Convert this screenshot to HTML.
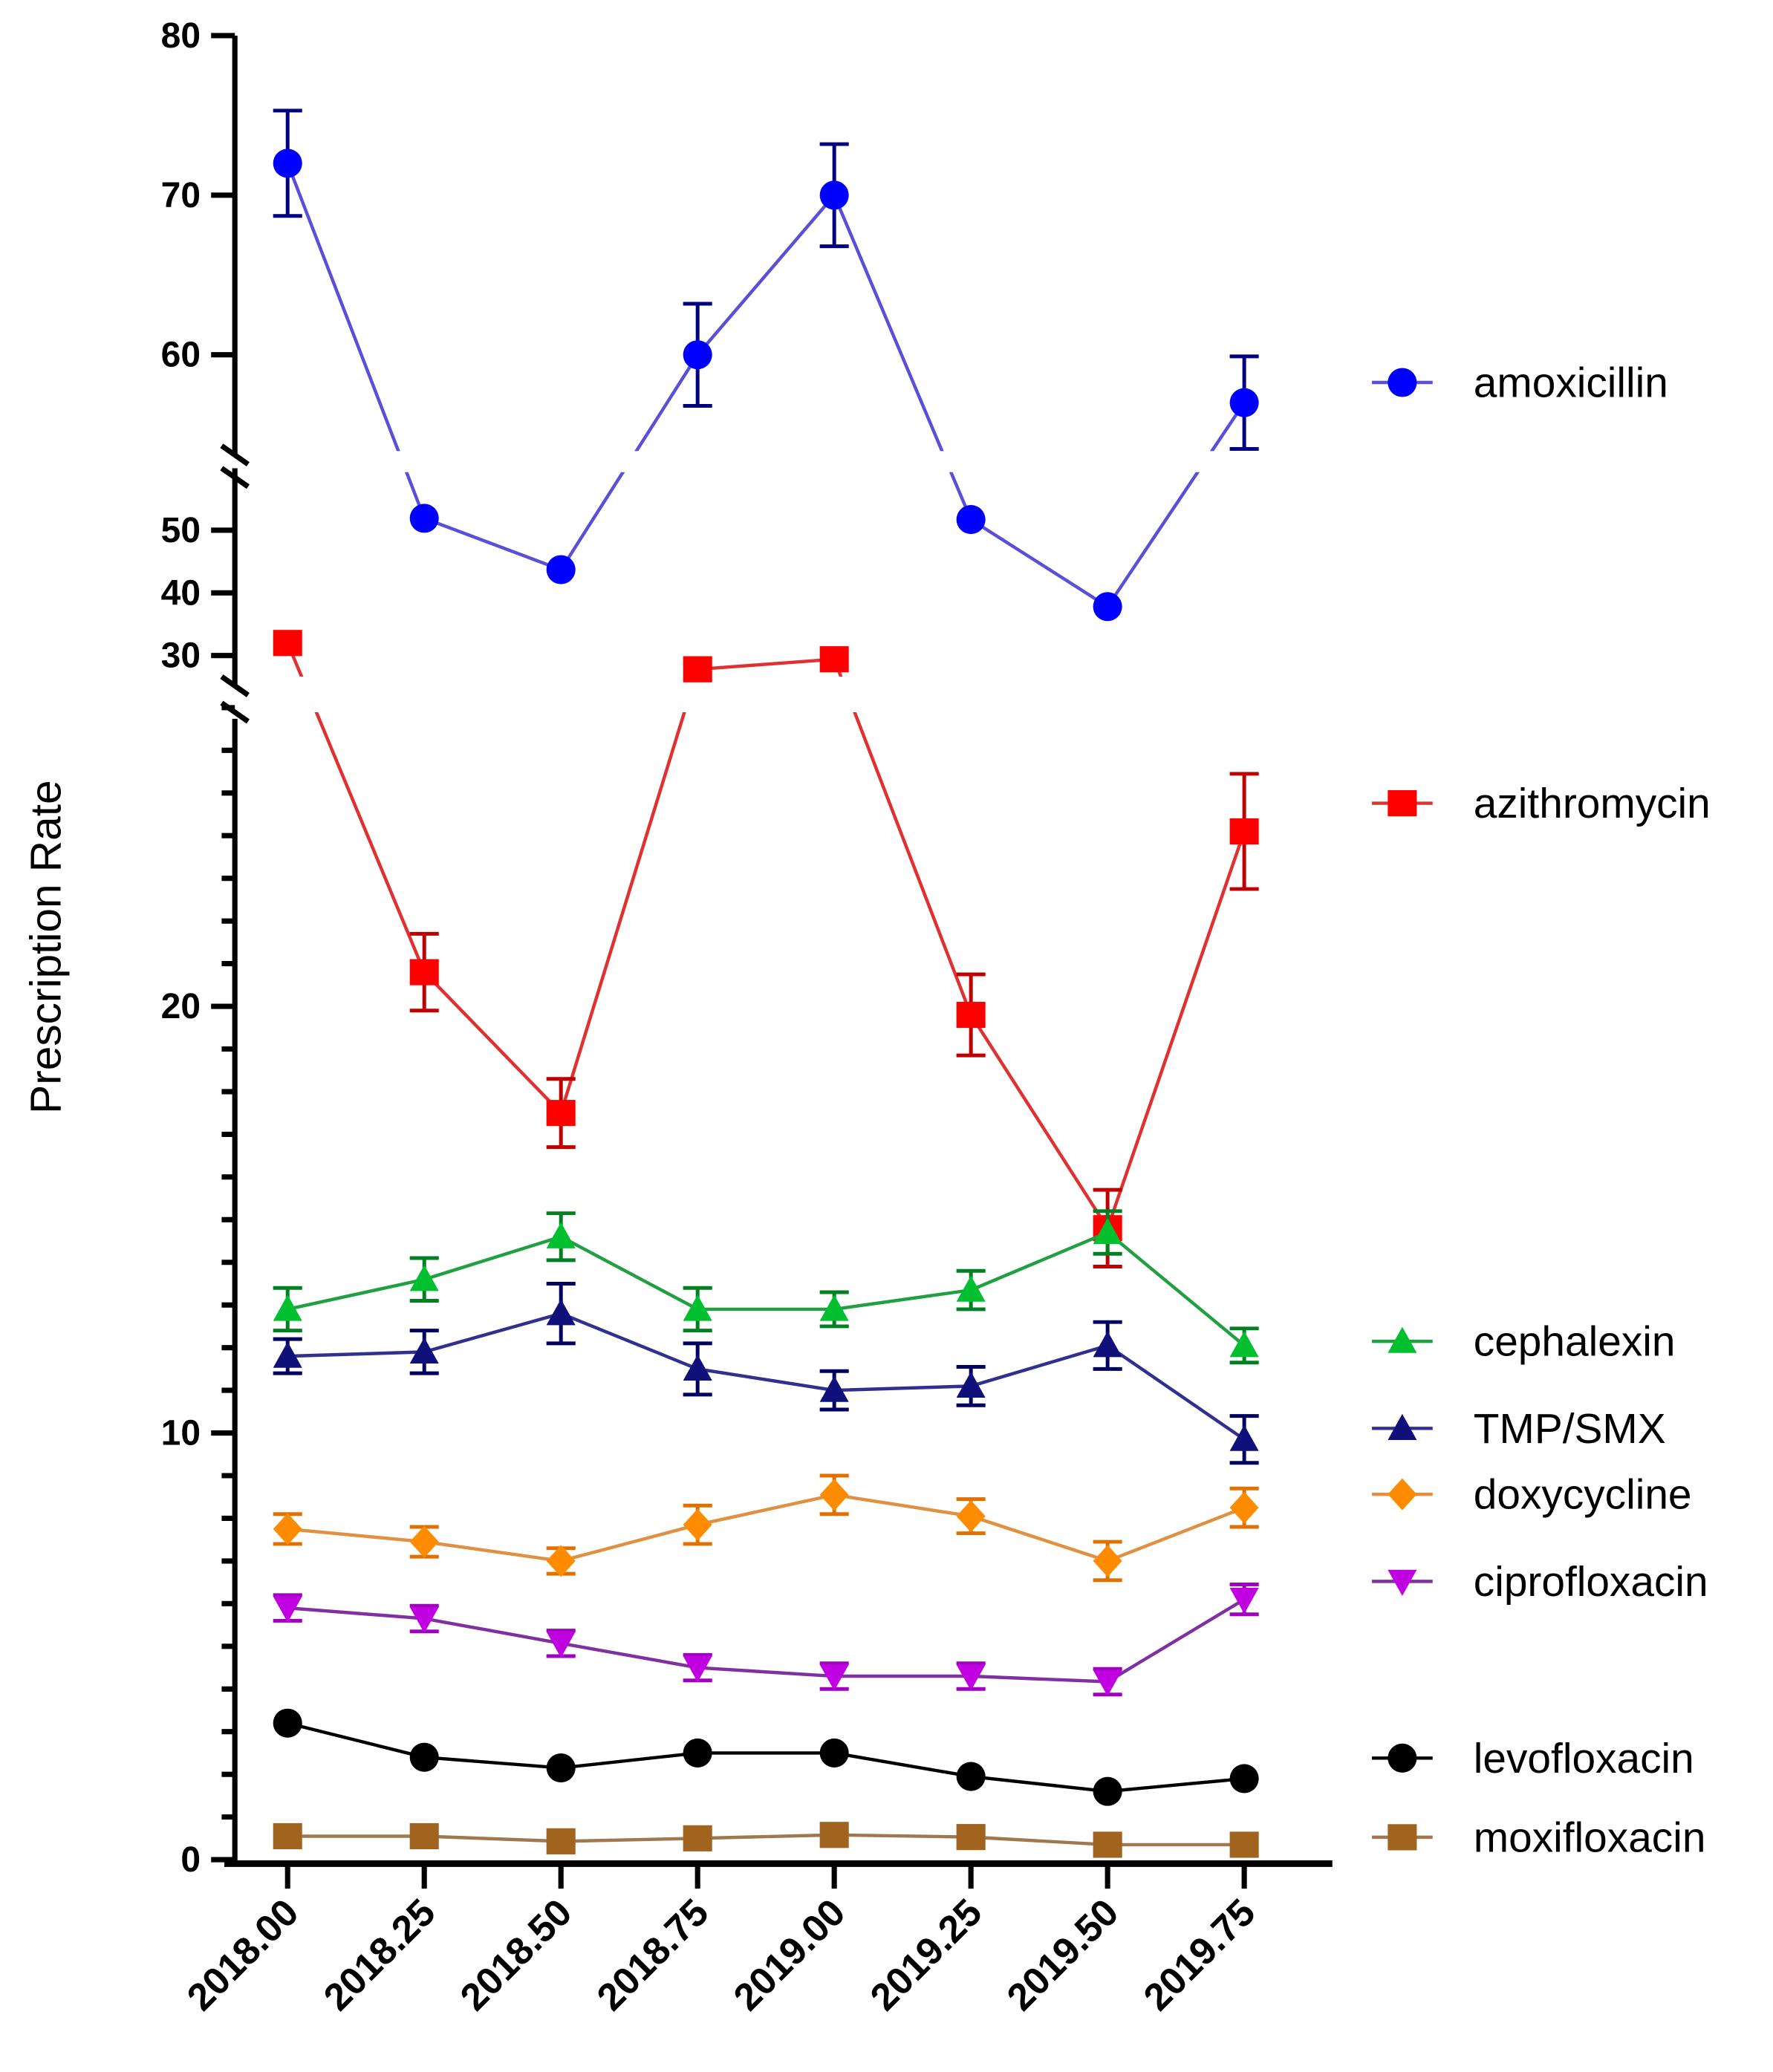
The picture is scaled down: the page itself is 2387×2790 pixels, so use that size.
<!DOCTYPE html>
<html><head><meta charset="utf-8"><style>
html,body{margin:0;padding:0;background:#fff;}
svg{display:block;font-family:"Liberation Sans",Arial,sans-serif;}
</style></head><body>
<svg id="chart" width="2387" height="2790" viewBox="0 0 1344 1571" xmlns="http://www.w3.org/2000/svg">
<defs>
<clipPath id="clipAll">
<rect x="180" y="0" width="1000" height="342"/>
<rect x="180" y="358" width="1000" height="155"/>
<rect x="180" y="540" width="1000" height="900"/>
</clipPath>
</defs>
<g id="axes"></g>
<g id="series"></g>
<g id="legend"></g>
</svg>
<script>
const categories = ["2018.00","2018.25","2018.50","2018.75","2019.00","2019.25","2019.50","2019.75"];
const amoxicillin = [72, 51.9, 43.7, 60, 70, 51.7, 37.8, 57];
const amoxicillinErr = [3.3, 0, 0, 3.2, 3.2, 0, 0, 2.9];
const azithromycin = [32, 20.8, 17.5, 27.9, 29.4, 19.8, 14.8, 24.1];
const azithromycinErr = [0, 0.9, 0.8, 0, 0, 0.95, 0.9, 1.35];
const cephalexin = [12.9, 13.6, 14.6, 12.9, 12.9, 13.35, 14.7, 12.05];
const cephalexinErr = [0.5, 0.5, 0.55, 0.5, 0.4, 0.45, 0.5, 0.4];
const tmpSmx = [11.8, 11.9, 12.8, 11.5, 11.0, 11.1, 12.05, 9.85];
const tmpSmxErr = [0.4, 0.5, 0.7, 0.6, 0.45, 0.45, 0.55, 0.55];
const doxycycline = [7.75, 7.45, 7.0, 7.85, 8.55, 8.05, 7.0, 8.25];
const doxycyclineErr = [0.35, 0.35, 0.3, 0.45, 0.45, 0.4, 0.45, 0.45];
const ciprofloxacin = [5.9, 5.65, 5.07, 4.5, 4.3, 4.3, 4.17, 6.1];
const ciprofloxacinErr = [0.3, 0.3, 0.3, 0.3, 0.3, 0.3, 0.3, 0.35];
const levofloxacin = [3.2, 2.4, 2.15, 2.5, 2.5, 1.95, 1.6, 1.9];
const moxifloxacin = [0.55, 0.55, 0.43, 0.5, 0.58, 0.53, 0.35, 0.35];
const yTicks = [0, 10, 20, 30, 40, 50, 60, 70, 80];

const NS = "http://www.w3.org/2000/svg";
function mk(tag, attrs, parent){const e=document.createElementNS(NS,tag);for(const k in attrs)e.setAttribute(k,attrs[k]);parent.appendChild(e);return e;}
function xScale(i){return 218 + i*103.6;}
function segOf(v){return v<=28?0:(v<=55?1:2);}
function ySeg(v,s){
  if(s===0) return 1410 - 32.35*v;
  if(s===1) return 497 - (v-30)*4.75;
  return 269 - (v-60)*12.1;
}
function yScale(v){return ySeg(v,segOf(v));}
const axes=document.getElementById('axes');
const series=document.getElementById('series');
const legend=document.getElementById('legend');

[[27,345],[355,520],[545,1414]].forEach(s=>{
  const l=mk('line',{x1:178,y1:s[0],x2:178,y2:s[1],stroke:'#000','stroke-width':4},axes);
  
  
});
[[338,352],[355,369],[513,527],[533,547]].forEach(b=>{
  const l=mk('line',{x1:168,y1:b[0],x2:188,y2:b[1],stroke:'#000','stroke-width':4},axes);
  
  
});
const xl=mk('line',{x1:170,y1:1413,x2:1010,y2:1413,stroke:'#000','stroke-width':5},axes);


yTicks.forEach(t=>{
  const y=yScale(t);
  const tk=mk('line',{x1:160,y1:y,x2:178,y2:y,stroke:'#000','stroke-width':4},axes);
  
  
  const tx=mk('text',{x:152,y:y+9,'text-anchor':'end','font-size':27,'font-weight':'bold'},axes);
  tx.textContent=t;
  
  
});
for(let m=1;m<=27;m++){
  if(m%10===0) continue;
  const y=yScale(m);
  const tk=mk('line',{x1:168,y1:y,x2:178,y2:y,stroke:'#000','stroke-width':4},axes);
  
  
}
categories.forEach((c,i)=>{
  const x=xScale(i);
  const tk=mk('line',{x1:x,y1:1413,x2:x,y2:1432,stroke:'#000','stroke-width':4},axes);
  
  
  const tx=mk('text',{x:x+10,y:1452,'text-anchor':'end','font-size':29,'font-weight':'bold',transform:`rotate(-45 ${x+10} 1452)`},axes);
  tx.textContent=c;
  
  
});
const yt=mk('text',{x:46,y:718,'text-anchor':'middle','font-size':33,transform:'rotate(-90 46 718)'},axes);
yt.textContent='Prescription Rate';



function marker(shape,x,y,color,g,s){
  s=s||10;
  if(shape==='circle') return mk('circle',{cx:x,cy:y,r:s,fill:color},g);
  if(shape==='square') return mk('rect',{x:x-s,y:y-s*0.9,width:2*s,height:1.8*s,fill:color},g);
  if(shape==='up') return mk('polygon',{points:`${x},${y-s} ${x-s},${y+s*0.8} ${x+s},${y+s*0.8}`,fill:color},g);
  if(shape==='down') return mk('polygon',{points:`${x},${y+s} ${x-s},${y-s*0.8} ${x+s},${y-s*0.8}`,fill:color},g);
  if(shape==='diamond') return mk('polygon',{points:`${x},${y-s*1.1} ${x+s},${y} ${x},${y+s*1.1} ${x-s},${y}`,fill:color},g);
}
const defs=[
 {name:'amoxicillin',vals:amoxicillin,err:amoxicillinErr,color:'#0000ff',line:'#5a4fd8',ecol:'#000080',shape:'circle',ly:290},
 {name:'azithromycin',vals:azithromycin,err:azithromycinErr,color:'#ff0000',line:'#e03030',ecol:'#c00000',shape:'square',ly:609},
 {name:'cephalexin',vals:cephalexin,err:cephalexinErr,color:'#00c030',line:'#20a040',ecol:'#008020',shape:'up',ly:1017},
 {name:'TMP/SMX',vals:tmpSmx,err:tmpSmxErr,color:'#10107a',line:'#303090',ecol:'#000060',shape:'up',ly:1083},
 {name:'doxycycline',vals:doxycycline,err:doxycyclineErr,color:'#ff8c00',line:'#e09040',ecol:'#e07000',shape:'diamond',ly:1133},
 {name:'ciprofloxacin',vals:ciprofloxacin,err:ciprofloxacinErr,color:'#c000e0',line:'#8030a0',ecol:'#a000c0',shape:'down',ly:1199},
 {name:'levofloxacin',vals:levofloxacin,err:null,color:'#000000',line:'#000000',ecol:'#000',shape:'circle',ly:1333},
 {name:'moxifloxacin',vals:moxifloxacin,err:null,color:'#a0641e',line:'#a07850',ecol:'#a0641e',shape:'square',ly:1393}
];
defs.forEach(d=>{
  const key=d.name.toLowerCase().replace('/','-');
  const g=mk('g',{},series);
  
  
  const pts=d.vals.map((v,i)=>`${xScale(i)},${yScale(v)}`).join(' ');
  const pl=mk('polyline',{points:pts,fill:'none',stroke:d.line,'stroke-width':2.5,'clip-path':'url(#clipAll)'},g);
  
  
  d.vals.forEach((v,i)=>{
    const x=xScale(i);
    if(d.err && d.err[i]>0){
      const s=segOf(v);
      const y1=ySeg(v+d.err[i],s), y2=ySeg(v-d.err[i],s);
      const eb=mk('path',{d:`M${x},${y1}V${y2}M${x-11},${y1}H${x+11}M${x-11},${y2}H${x+11}`,stroke:d.ecol,'stroke-width':2.8,fill:'none'},g);
      
      
    }
    const m=marker(d.shape,x,yScale(v),d.color,g,11);
    
    
  });
  const lg=mk('g',{},legend);
  
  
  mk('line',{x1:1040,y1:d.ly,x2:1086,y2:d.ly,stroke:d.line,'stroke-width':2.5},lg);
  marker(d.shape,1063,d.ly,d.color,lg,11);
  const t=mk('text',{x:1117,y:d.ly+11,'font-size':32},lg);
  t.textContent=d.name;
});
</script>
</body></html>
